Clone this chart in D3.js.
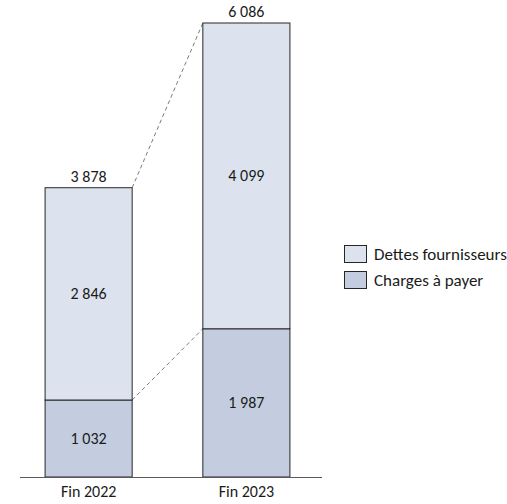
<!DOCTYPE html>
<html>
<head>
<meta charset="utf-8">
<script src="https://cdn.jsdelivr.net/npm/d3@7"></script>
<style>
  html, body { margin: 0; padding: 0; background: #fff; }
  svg { display: block; font-family: Carlito, "Open Sans", "Noto Sans", sans-serif; }
</style>
</head>
<body>
<svg id="chart" width="507" height="504"></svg>
<script>
// Supplier payables breakdown, end of year
const periods = ["Fin 2022", "Fin 2023"];
const chargesAPayer = [1032, 1987];
const dettesFournisseurs = [2846, 4099];
const totals = [3878, 6086];
const seriesNames = ["Dettes fournisseurs", "Charges à payer"];
const seriesColors = ["#dce3ee", "#c3cddf"];

const fontFamily = "Carlito, \"Open Sans\", \"Noto Sans\", sans-serif";
const fontSize = 16;
const fmt = v => d3.format(",")(v).replace(/,/g, "\u00a0");

const svg = d3.select("#chart");
const baseY = 477;
const topY = 23;

const x = d3.scaleBand()
  .domain(periods)
  .range([20, 315])
  .paddingInner(0.448)
  .paddingOuter(0.159);

const y = d3.scaleLinear()
  .domain([0, d3.max(totals)])
  .range([baseY, topY]);

const rows = periods.map((p, i) => ({
  period: p,
  charges: chargesAPayer[i],
  dettes: dettesFournisseurs[i],
  total: totals[i]
}));

const stack = d3.stack().keys(["charges", "dettes"]);
const layers = stack(rows);
const colorByKey = { charges: seriesColors[1], dettes: seriesColors[0] };

// dashed connectors between the bars
const connectors = [
  [rows[0].charges, rows[1].charges],
  [rows[0].total, rows[1].total]
];
svg.append("g").selectAll("line")
  .data(connectors)
  .join("line")
  .attr("x1", x(periods[0]) + x.bandwidth())
  .attr("x2", x(periods[1]))
  .attr("y1", d => y(d[0]))
  .attr("y2", d => y(d[1]))
  .attr("stroke", "#595959")
  .attr("stroke-width", 0.8)
  .attr("stroke-dasharray", "4,3");

// stacked bars
const layerG = svg.append("g").selectAll("g")
  .data(layers)
  .join("g")
  .attr("fill", d => colorByKey[d.key]);

layerG.selectAll("rect")
  .data(d => d)
  .join("rect")
  .attr("x", d => x(d.data.period))
  .attr("width", x.bandwidth())
  .attr("y", d => y(d[1]))
  .attr("height", d => y(d[0]) - y(d[1]))
  .attr("stroke", "#262626")
  .attr("stroke-width", 1);

// segment values
layerG.selectAll("text")
  .data(d => d)
  .join("text")
  .attr("x", d => x(d.data.period) + x.bandwidth() / 2)
  .attr("y", d => (y(d[0]) + y(d[1])) / 2)
  .attr("dy", "0.35em")
  .attr("text-anchor", "middle")
  .attr("fill", "#1a1a1a")
  .attr("font-size", fontSize)
  .text(d => fmt(d[1] - d[0]));

// totals above the bars
svg.append("g").selectAll("text")
  .data(rows)
  .join("text")
  .attr("x", d => x(d.period) + x.bandwidth() / 2)
  .attr("y", d => y(d.total) - 6)
  .attr("text-anchor", "middle")
  .attr("fill", "#1a1a1a")
  .attr("font-size", fontSize)
  .text(d => fmt(d.total));

// category axis
const axis = svg.append("g")
  .attr("transform", `translate(0,${baseY})`)
  .call(d3.axisBottom(x).tickSize(0).tickPadding(9));
axis.select(".domain")
  .attr("d", `M20,0.5H322`)
  .attr("stroke", "#595959")
  .attr("stroke-width", 1.2);
axis.selectAll("text")
  .attr("font-size", fontSize)
  .attr("font-family", fontFamily)
  .attr("fill", "#1a1a1a");

// legend
const legend = svg.append("g").attr("transform", "translate(344,245)");
const item = legend.selectAll("g")
  .data(seriesNames)
  .join("g")
  .attr("transform", (d, i) => `translate(0,${i * 26})`);
item.append("rect")
  .attr("x", 0.5)
  .attr("y", 0.5)
  .attr("width", 22)
  .attr("height", 17)
  .attr("fill", (d, i) => seriesColors[i])
  .attr("stroke", "#262626");
item.append("text")
  .attr("x", 30)
  .attr("y", 9)
  .attr("dy", "0.35em")
  .attr("font-size", 17)
  .attr("fill", "#1a1a1a")
  .text(d => d);
</script>
</body>
</html>
